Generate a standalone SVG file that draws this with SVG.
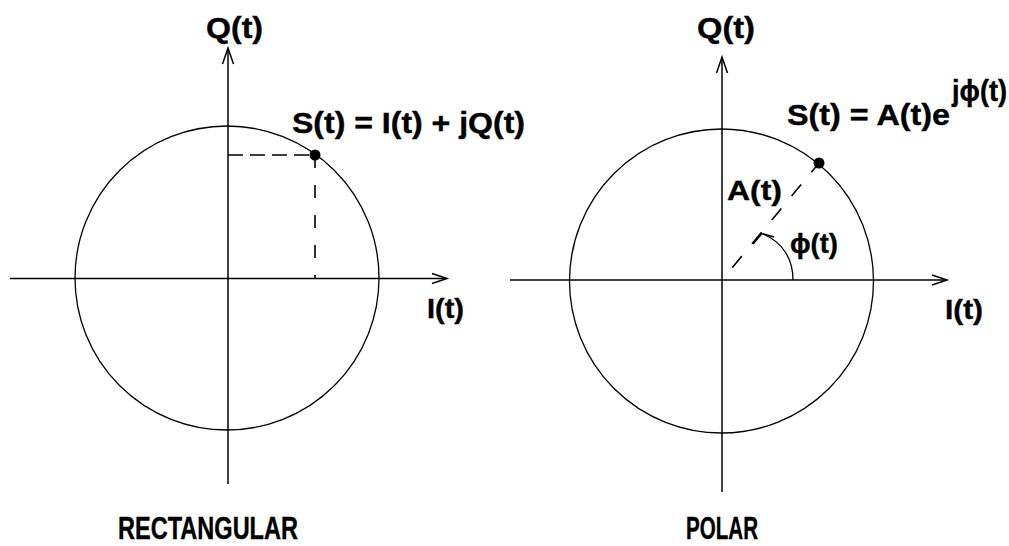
<svg xmlns="http://www.w3.org/2000/svg" width="1009" height="546" viewBox="0 0 1009 546">
<style>
.ax{stroke:#000;stroke-width:1.5;fill:none}
.ci{stroke:#000;stroke-width:1.3;fill:none}
.ah{stroke:#000;stroke-width:1.5;fill:none;stroke-linejoin:miter}
.ds{stroke:#000;stroke-width:1.6;fill:none}
.t{font-family:"Liberation Sans",Arial,Helvetica,sans-serif;font-weight:bold;fill:#000;stroke:#000;stroke-width:0.4}
</style>
<rect width="1009" height="546" fill="#fff"/>
<g id="rectangular">
  <circle class="ci" cx="227" cy="278" r="152"/>
  <g id="rect-axes">
    <line class="ax" x1="10" y1="278.5" x2="446" y2="278.5"/>
    <polyline class="ah" points="432,273.5 447,278.5 432,283.5"/>
    <line class="ax" x1="228" y1="484" x2="228" y2="49"/>
    <polyline class="ah" points="222.5,64 228,48 233.5,64"/>
  </g>
  <g id="rect-dashes">
    <line class="ds" x1="228" y1="155" x2="315" y2="155" stroke-dasharray="15 7"/>
    <line class="ds" x1="315" y1="155" x2="315" y2="278" stroke-dasharray="13 17"/>
  </g>
  <circle cx="315" cy="155" r="5.5" fill="#000"/>
  <text class="t" x="206" y="38" font-size="30" textLength="57" lengthAdjust="spacingAndGlyphs">Q(t)</text>
  <text class="t" x="292" y="133" font-size="29" textLength="233" lengthAdjust="spacingAndGlyphs">S(t) = I(t) + jQ(t)</text>
  <text class="t" x="427" y="318" font-size="28" textLength="37" lengthAdjust="spacingAndGlyphs">I(t)</text>
  <text class="t" x="118" y="539" font-size="31" textLength="180" lengthAdjust="spacingAndGlyphs">RECTANGULAR</text>
</g>
<g id="polar">
  <circle class="ci" cx="721.5" cy="281" r="152"/>
  <g id="polar-axes">
    <line class="ax" x1="510" y1="280" x2="946" y2="280"/>
    <polyline class="ah" points="932,275 947,280 932,285"/>
    <line class="ax" x1="722" y1="492" x2="722" y2="58"/>
    <polyline class="ah" points="716.5,73 722,57 727.5,73"/>
  </g>
  <line class="ds" x1="722" y1="280" x2="819" y2="163" stroke-dasharray="15 16" stroke-dashoffset="15"/>
  <path class="ci" d="M793,280 C793,258 782,242 763,234"/>
  <polyline class="ah" points="753,244 762,233.5 774,237"/>
  <circle cx="819" cy="163" r="5.5" fill="#000"/>
  <text class="t" x="697" y="38" font-size="30" textLength="58" lengthAdjust="spacingAndGlyphs">Q(t)</text>
  <text class="t" x="787" y="125" font-size="29" textLength="163" lengthAdjust="spacingAndGlyphs">S(t) = A(t)e</text>
  <text class="t" x="952" y="101" font-size="29" textLength="55" lengthAdjust="spacingAndGlyphs">jϕ(t)</text>
  <text class="t" x="727" y="200" font-size="28" textLength="55" lengthAdjust="spacingAndGlyphs">A(t)</text>
  <text class="t" x="790" y="253" font-size="28" textLength="48" lengthAdjust="spacingAndGlyphs">ϕ(t)</text>
  <text class="t" x="945" y="319" font-size="28" textLength="38" lengthAdjust="spacingAndGlyphs">I(t)</text>
  <text class="t" x="686" y="539" font-size="31" textLength="72" lengthAdjust="spacingAndGlyphs">POLAR</text>
</g>
</svg>
